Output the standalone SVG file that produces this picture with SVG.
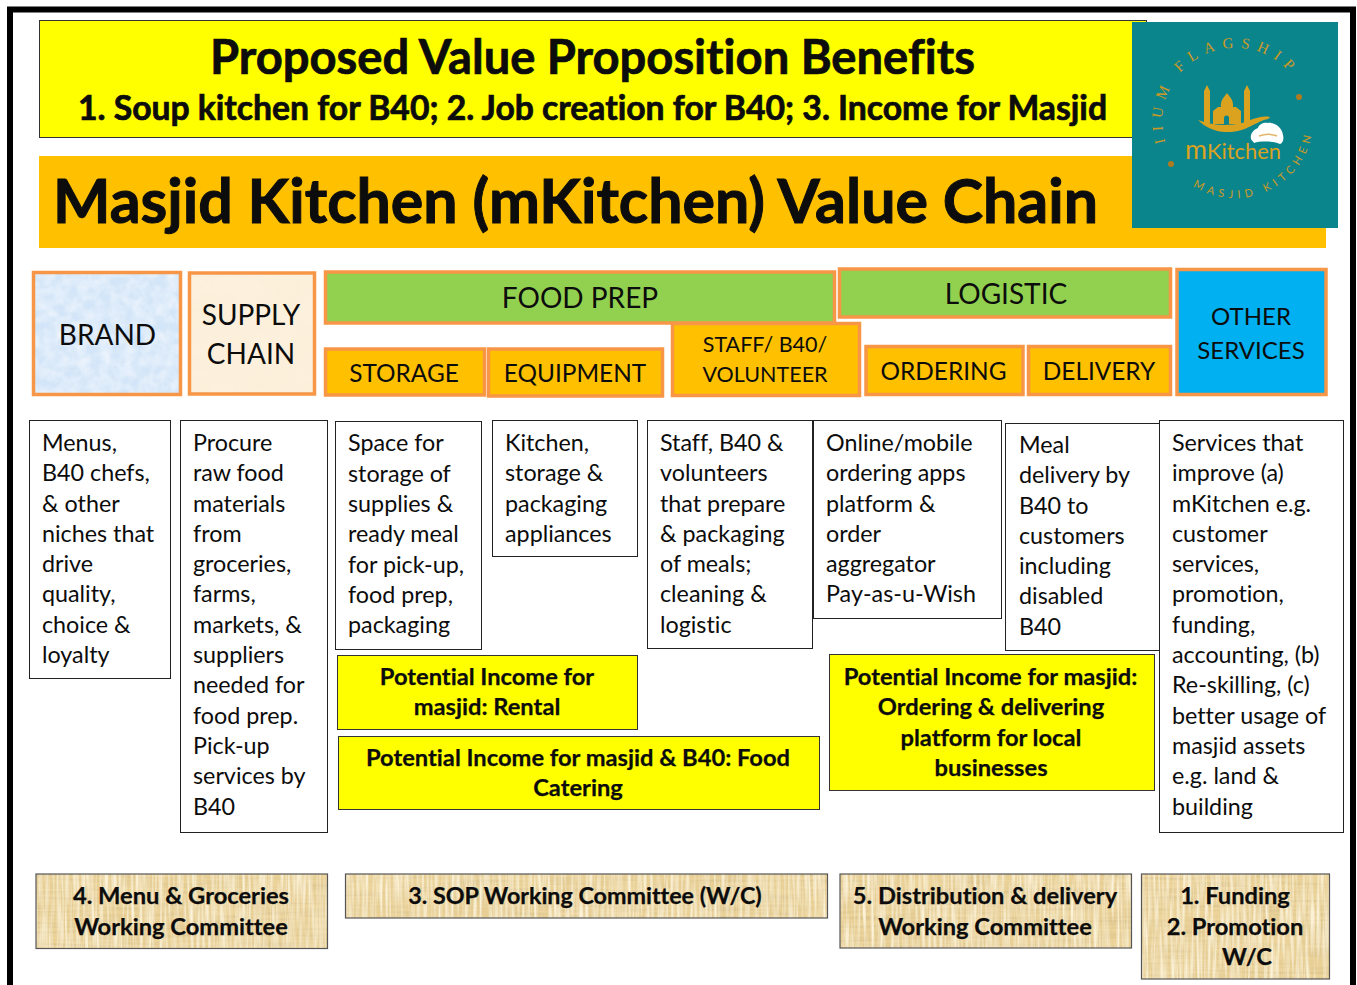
<svg xmlns="http://www.w3.org/2000/svg" width="1357" height="985" viewBox="0 0 1357 985">
<style>
text{font-family:"Lato","Open Sans",sans-serif;fill:#0c0c0c;font-variant-ligatures:none}
.b{font-weight:700;stroke:#0c0c0c;stroke-width:.7}
.m{text-anchor:middle}
.body{font-size:23.300px}
.box{fill:#fff;stroke:#222;stroke-width:1}
.or{fill:none;stroke:#f79646;stroke-width:3.500}
.head{font-size:28px}
.sub{font-size:24.400px}
.oth{font-size:24px}
.stf{font-size:21.500px}
.inc{fill:#ff0;stroke:#333;stroke-width:1}
.inct{font-size:23.700px;font-weight:700;stroke:#0c0c0c;stroke-width:.25}
.wc{fill:none;stroke:#555;stroke-width:1.200}
.pap{fill:#ebd39a;filter:url(#texP)}
.wct{font-size:23.700px;font-weight:700;stroke:#0c0c0c;stroke-width:.25}
.gold{fill:#daa21e}
.lg1{fill:#cf9a24;stroke:none;font-family:"Liberation Serif",serif;font-size:15px;letter-spacing:7.200px}
.lg2{fill:#cf9a24;stroke:none;font-size:11px;letter-spacing:4.700px}
</style>
<defs>
<filter id="texB" x="0" y="0" width="100%" height="100%"><feTurbulence type="fractalNoise" baseFrequency="0.09" numOctaves="3" seed="4"/><feColorMatrix values="0 0 0 0 .93 0 0 0 0 .96 0 0 0 0 1 .8 .8 0 0 -.55"/><feComposite in2="SourceGraphic" operator="in"/><feMerge><feMergeNode in="SourceGraphic"/><feMergeNode/></feMerge></filter>
<filter id="texS" x="0" y="0" width="100%" height="100%"><feTurbulence type="fractalNoise" baseFrequency="0.03" numOctaves="3" seed="9"/><feColorMatrix values="0 0 0 0 .96 0 0 0 0 .86 0 0 0 0 .68 1.200 1.200 0 0 -1"/><feComposite in2="SourceGraphic" operator="in"/><feMerge><feMergeNode in="SourceGraphic"/><feMergeNode/></feMerge></filter>
<filter id="texP" x="0" y="0" width="100%" height="100%"><feTurbulence type="fractalNoise" baseFrequency="0.02 0.35" numOctaves="2" seed="3" result="h"/><feColorMatrix in="h" values="0 0 0 0 .72 0 0 0 0 .56 0 0 0 0 .27 1.600 1.600 0 0 -1.300" result="hc"/><feTurbulence type="fractalNoise" baseFrequency="0.35 0.02" numOctaves="2" seed="8"/><feColorMatrix values="0 0 0 0 .97 0 0 0 0 .89 0 0 0 0 .68 1.600 1.600 0 0 -1.300" result="vc"/><feMerge result="n"><feMergeNode in="hc"/><feMergeNode in="vc"/></feMerge><feComposite in="n" in2="SourceGraphic" operator="in" result="c"/><feMerge><feMergeNode in="SourceGraphic"/><feMergeNode in="c"/></feMerge></filter>
<path id="arcTop" d="M1165.600 142.600A73 73 0 0 1 1298 83.500"/>
<path id="arcBot" d="M1193 186A78 78 0 0 0 1313 120"/>
</defs>
<g id="frame"><path d="M10 985V9.500H1353V985" fill="none" stroke="#000" stroke-width="6"/></g>

<g id="title"><rect x="39.500" y="20.500" width="1107" height="117" fill="#ff0" stroke="#333"/>
<text class="b" x="210" y="74" font-size="47" textLength="765" lengthAdjust="spacingAndGlyphs">Proposed Value Proposition Benefits</text>
<text class="b" x="78" y="120" font-size="33.500" textLength="1029" lengthAdjust="spacingAndGlyphs">1. Soup kitchen for B40; 2. Job creation for B40; 3. Income for Masjid</text></g>
<g id="banner"><rect x="39" y="156" width="1287" height="92" fill="#ffc000"/>
<text class="b" x="53" y="223" font-size="61" textLength="1045" lengthAdjust="spacingAndGlyphs" style="stroke-width:1">Masjid Kitchen (mKitchen) Value Chain</text></g>

<g id="logo"><rect x="1132" y="22" width="206" height="206" fill="#0b858c"/>
<text class="lg1"><textPath href="#arcTop">IIUM FLAGSHIP</textPath></text>
<text class="lg2"><textPath href="#arcBot">MASJID KITCHEN</textPath></text>
<circle cx="1299" cy="97" r="3" fill="#b07a20"/><circle cx="1171" cy="164" r="3" fill="#b07a20"/>
<path class="gold" d="M1204 123V91l3-6 3 6v32zM1244 123V91l3-6 3 6v32z"/>
<path class="gold" fill-rule="evenodd" d="M1213 124v-13l5-4h3c-1-7 4-11 6-14 2 3 7 7 6 14h3l5 4v13zM1224 124v-6a2.500 2.500 0 0 1 5 0v6z"/>
<path class="gold" d="M1198 120c16 6 30 6 44 3 10-3 18-8 28-6l-2 2c-12 2-22 14-42 13-12 0-22-6-28-12z"/>
<path d="M1251 139c-1-5 2-9 7-11 1-4 6-6 10-5 7-1 14 4 15 12 1 4 0 8-3 9-6-3-20-3-26-1-1-2-2-2-3-4z" fill="#fff"/>
<path d="M1259 136c6-2 13-2 18 0" fill="none" stroke="#e3b56a" stroke-width="1.500"/>
<text x="1185" y="159" style="fill:#daa21e;font-size:27px" textLength="22" lengthAdjust="spacingAndGlyphs">m</text>
<text x="1207" y="159" style="fill:#daa21e;font-size:21px" textLength="74" lengthAdjust="spacingAndGlyphs">Kitchen</text></g>

<g id="n-brand"><rect x="33.500" y="272.500" width="147" height="122" fill="#d3e5f8" filter="url(#texB)"/><rect class="or" x="33.500" y="272.500" width="147" height="122"/><text class="m head" x="107.500" y="345">BRAND</text></g>
<g id="n-supply"><rect x="189.500" y="273" width="125" height="121" fill="#fdf1de" filter="url(#texS)"/><rect class="or" x="189.500" y="273" width="125" height="121"/><text class="m head" x="251" y="325">SUPPLY</text><text class="m head" x="251" y="364">CHAIN</text></g>
<g id="n-foodprep"><rect x="325.500" y="272" width="509" height="51" fill="#92d050"/><rect class="or" x="325.500" y="272" width="509" height="51"/><text class="m head" x="580" y="308">FOOD PREP</text></g>
<g id="n-logistic"><rect x="839.500" y="269" width="331" height="48" fill="#92d050"/><rect class="or" x="839.500" y="269" width="331" height="48"/><text class="m head" x="1006" y="304">LOGISTIC</text></g>
<g id="n-other"><rect x="1177" y="269.500" width="149" height="125" fill="#00b0f0"/><rect class="or" x="1177" y="269.500" width="149" height="125"/><text class="m oth" x="1251" y="325">OTHER</text><text class="m oth" x="1251" y="359">SERVICES</text></g>
<g id="n-storage"><rect x="325.500" y="349" width="159" height="46" fill="#ffc000"/><rect class="or" x="325.500" y="349" width="159" height="46"/><text class="m sub" x="404" y="382">STORAGE</text></g>
<g id="n-equipment"><rect x="488.500" y="349" width="174" height="47" fill="#ffc000"/><rect class="or" x="488.500" y="349" width="174" height="47"/><text class="m sub" x="575" y="382">EQUIPMENT</text></g>
<g id="n-staff"><rect x="672.500" y="323.500" width="187" height="72" fill="#ffc000"/><rect class="or" x="672.500" y="323.500" width="187" height="72"/><text class="m stf" x="765" y="352">STAFF/ B40/</text><text class="m stf" x="765" y="382">VOLUNTEER</text></g>
<g id="n-ordering"><rect x="866" y="346.500" width="157" height="48" fill="#ffc000"/><rect class="or" x="866" y="346.500" width="157" height="48"/><text class="m sub" x="943.500" y="380">ORDERING</text></g>
<g id="n-delivery"><rect x="1028.500" y="346.500" width="142" height="48" fill="#ffc000"/><rect class="or" x="1028.500" y="346.500" width="142" height="48"/><text class="m sub" x="1099" y="380">DELIVERY</text></g>

<g id="d-brand"><rect class="box" x="29.500" y="420.500" width="141" height="258"/><text class="body"><tspan x="42" y="451">Menus,</tspan><tspan x="42" y="481">B40 chefs,</tspan><tspan x="42" y="512">&amp; other</tspan><tspan x="42" y="542">niches that</tspan><tspan x="42" y="572">drive</tspan><tspan x="42" y="602">quality,</tspan><tspan x="42" y="633">choice &amp;</tspan><tspan x="42" y="663">loyalty</tspan></text></g>
<g id="d-supply"><rect class="box" x="180.500" y="420.500" width="147" height="412"/><text class="body"><tspan x="193" y="451">Procure</tspan><tspan x="193" y="481">raw food</tspan><tspan x="193" y="512">materials</tspan><tspan x="193" y="542">from</tspan><tspan x="193" y="572">groceries,</tspan><tspan x="193" y="602">farms,</tspan><tspan x="193" y="633">markets, &amp;</tspan><tspan x="193" y="663">suppliers</tspan><tspan x="193" y="693">needed for</tspan><tspan x="193" y="724">food prep.</tspan><tspan x="193" y="754">Pick-up</tspan><tspan x="193" y="784">services by</tspan><tspan x="193" y="815">B40</tspan></text></g>
<g id="d-storage"><rect class="box" x="335.500" y="421.500" width="146" height="228"/><text class="body"><tspan x="348" y="451">Space for</tspan><tspan x="348" y="482">storage of</tspan><tspan x="348" y="512">supplies &amp;</tspan><tspan x="348" y="542">ready meal</tspan><tspan x="348" y="573">for pick-up,</tspan><tspan x="348" y="603">food prep,</tspan><tspan x="348" y="633">packaging</tspan></text></g>
<g id="d-equipment"><rect class="box" x="492.500" y="420.500" width="145" height="136"/><text class="body"><tspan x="505" y="451">Kitchen,</tspan><tspan x="505" y="481">storage &amp;</tspan><tspan x="505" y="512">packaging</tspan><tspan x="505" y="542">appliances</tspan></text></g>
<g id="d-staff"><rect class="box" x="647.500" y="420.500" width="165" height="228"/><text class="body"><tspan x="660" y="451">Staff, B40 &amp;</tspan><tspan x="660" y="481">volunteers</tspan><tspan x="660" y="512">that prepare</tspan><tspan x="660" y="542">&amp; packaging</tspan><tspan x="660" y="572">of meals;</tspan><tspan x="660" y="602">cleaning &amp;</tspan><tspan x="660" y="633">logistic</tspan></text></g>
<g id="d-ordering"><rect class="box" x="813.500" y="420.500" width="188" height="198"/><text class="body"><tspan x="826" y="451">Online/mobile</tspan><tspan x="826" y="481">ordering apps</tspan><tspan x="826" y="512">platform &amp;</tspan><tspan x="826" y="542">order</tspan><tspan x="826" y="572">aggregator</tspan><tspan x="826" y="602">Pay-as-u-Wish</tspan></text></g>
<g id="d-delivery"><rect class="box" x="1005.500" y="423.500" width="155" height="227"/><text class="body"><tspan x="1019" y="453">Meal</tspan><tspan x="1019" y="483">delivery by</tspan><tspan x="1019" y="514">B40 to</tspan><tspan x="1019" y="544">customers</tspan><tspan x="1019" y="574">including</tspan><tspan x="1019" y="604">disabled</tspan><tspan x="1019" y="635">B40</tspan></text></g>
<g id="d-other"><rect class="box" x="1159.500" y="420.500" width="184" height="412"/><text class="body"><tspan x="1172" y="451">Services that</tspan><tspan x="1172" y="481">improve (a)</tspan><tspan x="1172" y="512">mKitchen e.g.</tspan><tspan x="1172" y="542">customer</tspan><tspan x="1172" y="572">services,</tspan><tspan x="1172" y="602">promotion,</tspan><tspan x="1172" y="633">funding,</tspan><tspan x="1172" y="663">accounting, (b)</tspan><tspan x="1172" y="693">Re-skilling, (c)</tspan><tspan x="1172" y="724">better usage of</tspan><tspan x="1172" y="754">masjid assets</tspan><tspan x="1172" y="784">e.g. land &amp;</tspan><tspan x="1172" y="815">building</tspan></text></g>

<g id="i-rental"><rect class="inc" x="337.500" y="655.500" width="300" height="74"/><text class="inct m" x="487" y="685">Potential Income for</text><text class="inct m" x="487" y="715">masjid: Rental</text></g>
<g id="i-catering"><rect class="inc" x="338.500" y="736.500" width="481" height="73"/><text class="inct m" x="578" y="766">Potential Income for masjid &amp; B40: Food</text><text class="inct m" x="578" y="796">Catering</text></g>
<g id="i-ordering"><rect class="inc" x="829.500" y="654.500" width="325" height="136"/><text class="inct m" x="990.500" y="685">Potential Income for masjid:</text><text class="inct m" x="991" y="715">Ordering &amp; delivering</text><text class="inct m" x="991" y="746">platform for local</text><text class="inct m" x="991" y="776">businesses</text></g>

<g id="w-menu"><rect class="pap" x="36" y="874" width="291.500" height="74.500"/><rect class="wc" x="36" y="874" width="291.500" height="74.500"/><text class="wct m" x="181" y="904">4. Menu &amp; Groceries</text><text class="wct m" x="181" y="935">Working Committee</text></g>
<g id="w-sop"><rect class="pap" x="345.500" y="874" width="482" height="44"/><rect class="wc" x="345.500" y="874" width="482" height="44"/><text class="wct m" x="585" y="904" style="font-size:23.300px">3. SOP Working Committee (W/C)</text></g>
<g id="w-dist"><rect class="pap" x="840" y="874" width="291.500" height="74"/><rect class="wc" x="840" y="874" width="291.500" height="74"/><text class="wct m" x="985" y="904">5. Distribution &amp; delivery</text><text class="wct m" x="985" y="935">Working Committee</text></g>
<g id="w-fund"><rect class="pap" x="1141.500" y="874" width="188" height="105"/><rect class="wc" x="1141.500" y="874" width="188" height="105"/><text class="wct m" x="1235" y="904">1. Funding</text><text class="wct m" x="1235" y="935">2. Promotion</text><text class="wct m" x="1247" y="965">W/C</text></g>
<g id="connectors"></g>
</svg>
